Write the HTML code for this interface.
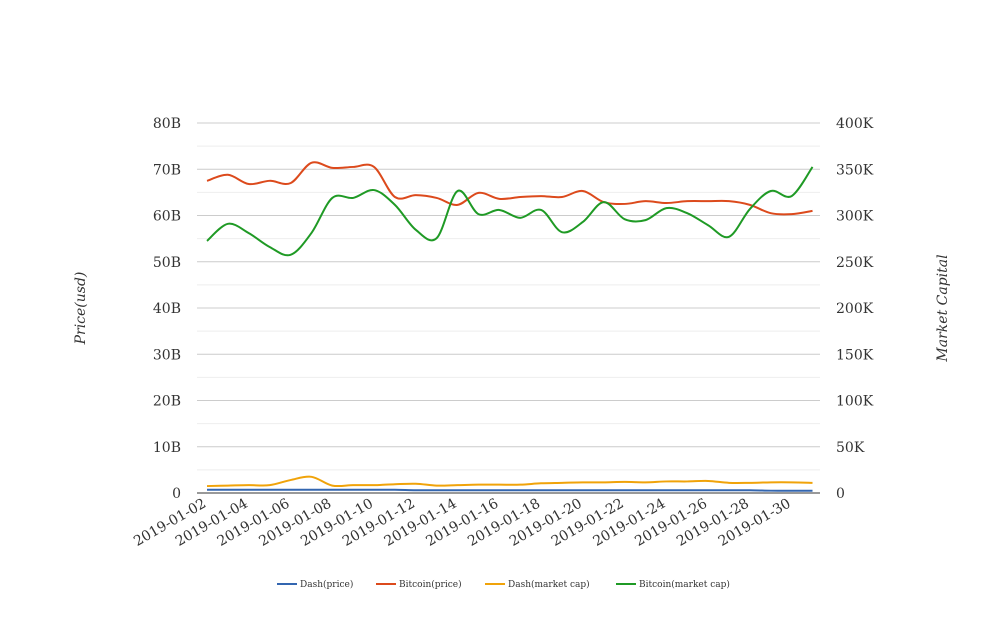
<!DOCTYPE html>
<html><head><meta charset="utf-8"><style>
body{margin:0;background:#fff;}
svg text{font-family:"DejaVu Serif","Liberation Serif",serif;}
</style></head><body>
<svg id="c" width="1008" height="616"></svg>
<script>
const dates=[];for(let d=2;d<=31;d++)dates.push('2019-01-'+String(d).padStart(2,'0'));
const dashPrice=[0.7,0.7,0.7,0.7,0.7,0.7,0.7,0.7,0.7,0.7,0.6,0.6,0.6,0.6,0.6,0.6,0.6,0.6,0.6,0.6,0.6,0.6,0.6,0.6,0.6,0.6,0.6,0.5,0.5,0.5];
const btcPrice=[67.5,68.8,66.8,67.5,67.0,71.4,70.3,70.5,70.5,64.0,64.4,63.8,62.3,64.9,63.6,64.0,64.2,64.0,65.3,62.9,62.5,63.1,62.7,63.1,63.1,63.1,62.3,60.5,60.3,61.0];
const dashCap=[1.5,1.6,1.7,1.7,2.8,3.5,1.6,1.7,1.7,1.9,2.0,1.6,1.7,1.8,1.8,1.8,2.1,2.2,2.3,2.3,2.4,2.3,2.5,2.5,2.6,2.2,2.2,2.3,2.3,2.2];
const btcCap=[54.5,58.2,56.2,53.2,51.5,56.2,63.8,63.8,65.5,62.3,56.9,55.1,65.3,60.3,61.2,59.5,61.2,56.4,58.6,62.9,59.2,59.0,61.6,60.5,57.9,55.4,61.4,65.3,64.2,70.5];
const leftTicks=['0','10B','20B','30B','40B','50B','60B','70B','80B'];
const rightTicks=['0','50K','100K','150K','200K','250K','300K','350K','400K'];
const NS='http://www.w3.org/2000/svg',svg=document.getElementById('c');
function el(t,a,txt){const e=document.createElementNS(NS,t);for(const k in a)e.setAttribute(k,a[k]);if(txt!=null)e.textContent=txt;svg.appendChild(e);return e;}
const x0=207,dx=20.88,yb=493,ppu=4.625;
const X=i=>x0+i*dx, Y=v=>yb-v*ppu;
for(let k=0;k<=16;k++){const y=Y(k*5);const g=el('line',{x1:197,x2:820,y1:y,y2:y,stroke:k%2?'#eee':'#ccc','stroke-width':1});}
el('line',{x1:197,x2:820,y1:yb,y2:yb,stroke:'#333'});
leftTicks.forEach((t,i)=>{const e=el('text',{x:181,y:Y(i*10)+5,'text-anchor':'end','font-size':14,fill:'#333'},t);});
rightTicks.forEach((t,i)=>{const e=el('text',{x:836,y:Y(i*10)+5,'font-size':14,fill:'#333'},t);});
dates.forEach((d,i)=>{if(i%2)return;const e=el('text',{x:X(i),y:506,'text-anchor':'end','font-size':14,fill:'#333',transform:`rotate(-30 ${X(i)} 506)`},d);});
let t=el('text',{x:0,y:0,'font-size':14,'font-style':'italic',fill:'#333','text-anchor':'middle',transform:'translate(85 308) rotate(-90)'},'Price(usd)');
t=el('text',{x:0,y:0,'font-size':14,'font-style':'italic',fill:'#333','text-anchor':'middle',transform:'translate(947 308) rotate(-90)'},'Market Capital');
function path(vals){const p=vals.map((v,i)=>[X(i),Y(v)]);let d='M'+p[0];for(let i=0;i<p.length-1;i++){const a=p[i-1]||p[i],b=p[i],c=p[i+1],e=p[i+2]||c;d+=`C${b[0]+(c[0]-a[0])/6},${b[1]+(c[1]-a[1])/6} ${c[0]-(e[0]-b[0])/6},${c[1]-(e[1]-b[1])/6} ${c[0]},${c[1]}`;}return d;}
const series=[['Dash(price)',dashPrice,'#3366b0'],['Bitcoin(price)',btcPrice,'#dc4a1c'],['Dash(market cap)',dashCap,'#f0a30a'],['Bitcoin(market cap)',btcCap,'#1f9a25']];
series.forEach(s=>{const e=el('path',{d:path(s[1]),fill:'none',stroke:s[2],'stroke-width':2});});
const lx=[277,376,485,616];
series.forEach((s,i)=>{const l=el('line',{x1:lx[i],x2:lx[i]+20,y1:584,y2:584,stroke:s[2],'stroke-width':2});const e=el('text',{x:lx[i]+23,y:587,'font-size':9,fill:'#333'},s[0]);});
</script>
</body></html>
